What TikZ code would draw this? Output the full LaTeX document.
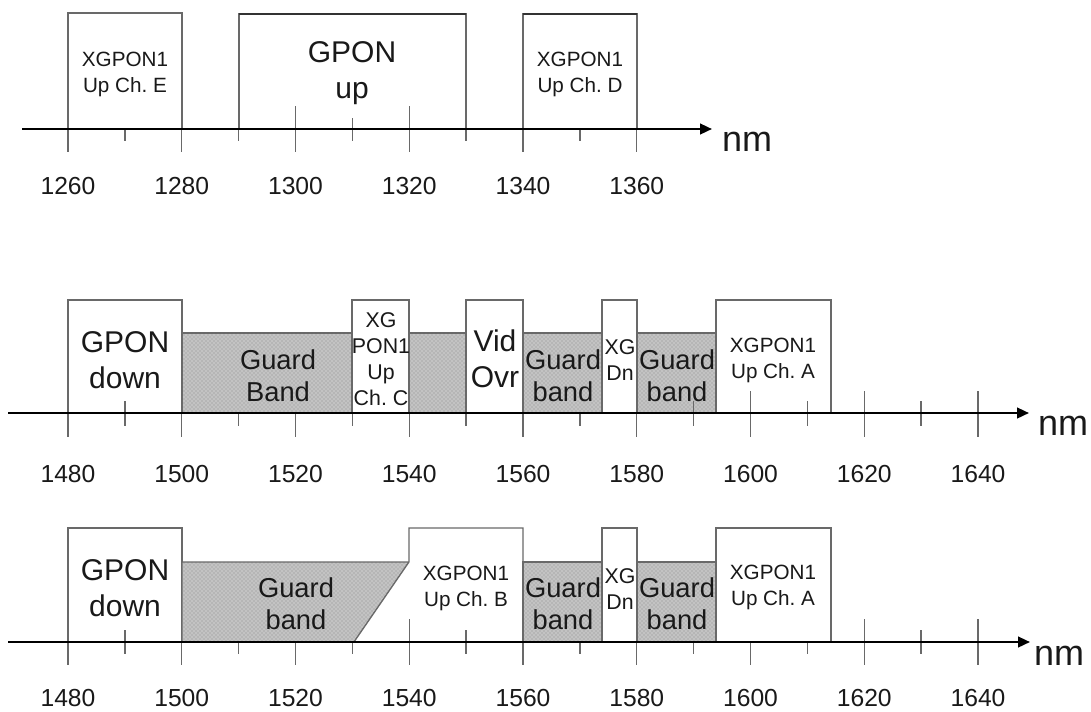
\documentclass[tikz,border=0pt]{standalone}
\usepackage{fontspec}
\setmainfont{Liberation Sans}
\usetikzlibrary{arrows.meta,patterns}
\definecolor{boxgray}{RGB}{105,105,105}
\definecolor{txt}{RGB}{25,25,25}
\definecolor{gfill}{RGB}{195,195,195}
\frenchspacing
\begin{document}
\begin{tikzpicture}[x=0.75pt,y=-0.75pt,
  box/.style={draw=boxgray,line width=0.9pt,fill=white},
  guard/.style={preaction={fill=gfill},pattern=crosshatch dots,pattern color=black!45,draw=boxgray,line width=0.9pt},
  axis/.style={line width=1.7pt,-{Triangle[length=9pt,width=8pt]}},
  tk/.style={draw=boxgray,line width=1.1pt},
  num/.style={font=\fontsize{18.5}{20}\selectfont,text=txt,inner sep=0pt},
  unit/.style={font=\fontsize{27}{30}\selectfont,text=txt,inner sep=0pt},
  small/.style={font=\fontsize{15.5}{19.5}\selectfont,align=center,text=txt,inner sep=0pt},
  xgs/.style={font=\fontsize{16}{19.5}\selectfont,align=center,text=txt,inner sep=0pt},
  big/.style={font=\fontsize{22.5}{27}\selectfont,align=center,text=txt,inner sep=0pt},
  gtxt/.style={font=\fontsize{20.5}{24}\selectfont,align=center,text=txt,inner sep=0pt}]
\useasboundingbox (0,0) rectangle (1091,711);

% ================= TOP ROW (axis y=129) =================
\path[box] (68,129) |- (182,13) -- (182,129);
\path[box] (239,129) |- (466,14) -- (466,129);
\path[box] (523,129) |- (637,14) -- (637,129);
\draw[line width=1.8pt,black!80] (239,14) -- (466,14);
\draw[line width=1.8pt,black!80] (523,14) -- (637,14);
% ticks
\foreach \n in {1260,1280,1340,1360}{\pgfmathsetmacro\px{68+(\n-1260)*5.6875}\draw[tk] (\px,129) -- (\px,152);}
\foreach \n in {1270,1290,1330,1350}{\pgfmathsetmacro\px{68+(\n-1260)*5.6875}\draw[tk] (\px,129) -- (\px,141);}
\foreach \n in {1300,1320}{\pgfmathsetmacro\px{68+(\n-1260)*5.6875}\draw[tk] (\px,106) -- (\px,152);}
\foreach \n in {1310}{\pgfmathsetmacro\px{68+(\n-1260)*5.6875}\draw[tk] (\px,118) -- (\px,141);}
\coordinate (t0) at (22,129);
\coordinate (t1) at (712,129);
\draw[axis] (t0) -- (t1);
\node[unit] (tnm) at (747,142) {nm};
\foreach \n in {1260,1280,1300,1320,1340,1360}{\pgfmathsetmacro\px{68+(\n-1260)*5.6875}\node[num] (tl\n) at (\px,186) {\n};}
\node[small] (upE) at (125,74) {XGPON1\\Up Ch. E};
\node[big] (gup) at (352,73) {GPON\\up};
\node[small] (upD) at (580,74) {XGPON1\\Up Ch. D};

% ================= MIDDLE ROW (axis y=413) =================
\path[box] (68,413) |- (182,300) -- (182,413);
\path[guard] (182,413) rectangle (352,333);
\path[box] (352,413) |- (409,300) -- (409,413);
\path[guard] (409,413) rectangle (466,333);
\path[box] (466,413) |- (523,300) -- (523,413);
\path[guard] (523,413) rectangle (602,333);
\path[box] (602,413) |- (637,300) -- (637,413);
\path[guard] (637,413) rectangle (716,333);
\path[box] (716,413) |- (831,300) -- (831,413);
% ticks
\foreach \n in {1480,1500,1520,1540,1560,1580}{\pgfmathsetmacro\px{68+(\n-1480)*5.6875}\draw[tk] (\px,413) -- (\px,437);}
\foreach \n in {1510,1530,1550,1570}{\pgfmathsetmacro\px{68+(\n-1480)*5.6875}\draw[tk] (\px,413) -- (\px,426);}
\foreach \n in {1600,1620,1640}{\pgfmathsetmacro\px{68+(\n-1480)*5.6875}\draw[tk] (\px,391) -- (\px,437);}
\foreach \n in {1490,1590,1610,1630}{\pgfmathsetmacro\px{68+(\n-1480)*5.6875}\draw[tk] (\px,401) -- (\px,426);}
\coordinate (m0) at (8,413);
\coordinate (m1) at (1029,413);
\draw[axis] (m0) -- (m1);
\node[unit] (mnm) at (1063,426) {nm};
\foreach \n in {1480,1500,...,1640}{\pgfmathsetmacro\px{68+(\n-1480)*5.6875}\node[num] (ml\n) at (\px,474) {\n};}
\node[big] (mgd) at (125,360) {GPON\\down};
\node[gtxt] (mg1) at (278,376) {Guard\\Band};
\node[xgs] (mupC) at (381,359) {XG\\PON1\\Up\\Ch. C};
\node[big] (mvid) at (495,359) {Vid\\Ovr};
\node[gtxt] (mg2) at (563,376) {Guard\\band};
\node[xgs] (mxg) at (620,360) {XG\\Dn};
\node[gtxt] (mg3) at (677,376) {Guard\\band};
\node[small] (mupA) at (773,360) {XGPON1\\Up Ch. A};

% ================= BOTTOM ROW (axis y=642) =================
\path[box] (68,642) |- (182,528) -- (182,642);
\path[guard] (182,642) -- (182,562) -- (409,562) -- (354,642) -- cycle;
\path[box] (354,642) -- (409,562) -- (409,528) -- (523,528) -- (523,642);
\path[guard] (523,642) rectangle (602,562);
\path[box] (602,642) |- (637,528) -- (637,642);
\path[guard] (637,642) rectangle (716,562);
\path[box] (716,642) |- (831,528) -- (831,642);
% ticks
\foreach \n in {1500,1520,1560,1580,1600}{\pgfmathsetmacro\px{68+(\n-1480)*5.6875}\draw[tk] (\px,642) -- (\px,665);}
\foreach \n in {1510,1530,1570,1590,1610}{\pgfmathsetmacro\px{68+(\n-1480)*5.6875}\draw[tk] (\px,642) -- (\px,654);}
\foreach \n in {1480,1540,1620,1640}{\pgfmathsetmacro\px{68+(\n-1480)*5.6875}\draw[tk] (\px,619) -- (\px,665);}
\foreach \n in {1490,1550,1630}{\pgfmathsetmacro\px{68+(\n-1480)*5.6875}\draw[tk] (\px,630) -- (\px,654);}
\coordinate (b0) at (8,642);
\coordinate (b1) at (1030,642);
\draw[axis] (b0) -- (b1);
\node[unit] (bnm) at (1059,656) {nm};
\foreach \n in {1480,1500,...,1640}{\pgfmathsetmacro\px{68+(\n-1480)*5.6875}\node[num] (bl\n) at (\px,698) {\n};}
\node[big] (bgd) at (125,588) {GPON\\down};
\node[gtxt] (bg1) at (296,604) {Guard\\band};
\node[small] (bupB) at (466,588) {XGPON1\\Up Ch. B};
\node[gtxt] (bg2) at (563,604) {Guard\\band};
\node[xgs] (bxg) at (620,589) {XG\\Dn};
\node[gtxt] (bg3) at (677,604) {Guard\\band};
\node[small] (bupA) at (773,587) {XGPON1\\Up Ch. A};
\end{tikzpicture}
\end{document}
